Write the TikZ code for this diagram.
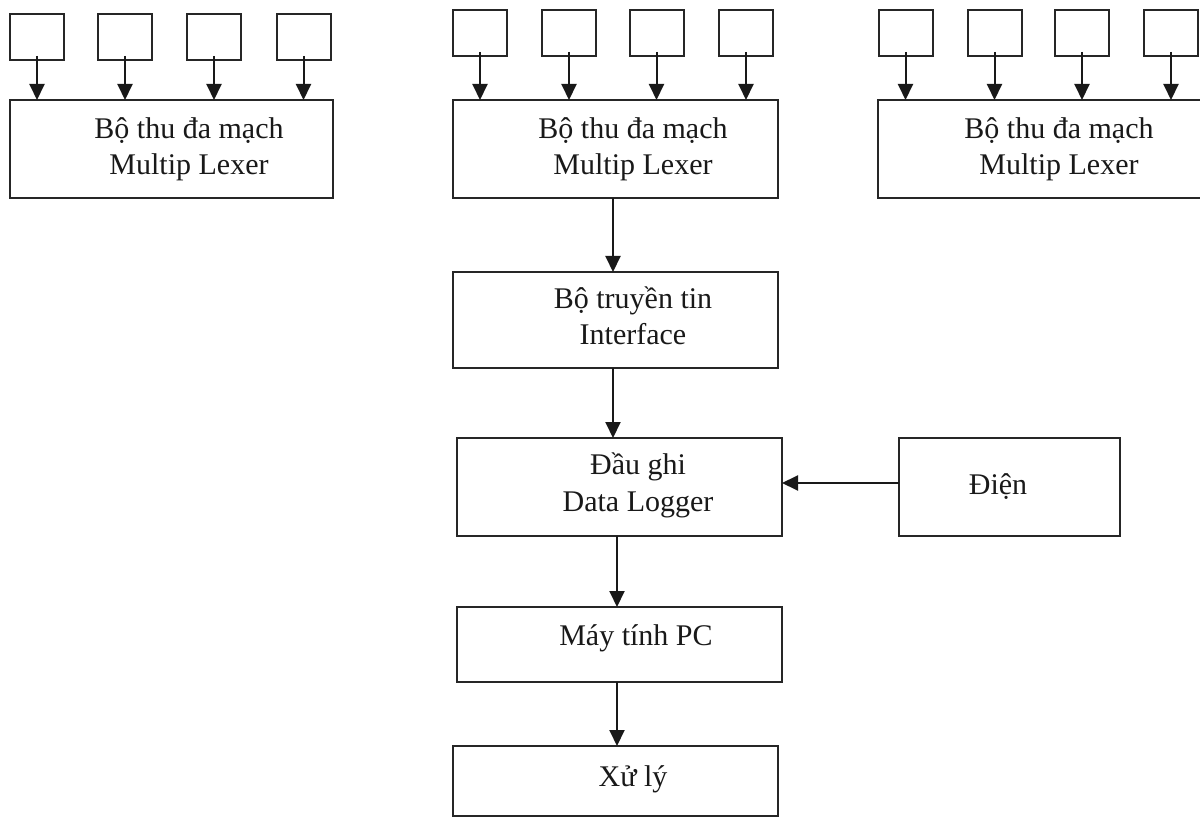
\documentclass[tikz,border=0pt]{standalone}
\usepackage{fontspec}
\setmainfont{Liberation Serif}
\usetikzlibrary{arrows.meta}
\begin{document}
\begin{tikzpicture}[x=1pt,y=-1pt,
  every node/.style={inner sep=0pt,outer sep=0pt},
  box/.style={draw=black!85,line width=2pt,fill=none},
  sensor/.style={box,minimum width=54pt,minimum height=46pt},
  txt/.style={anchor=base,font=\fontsize{30}{36}\selectfont,text=black!90},
  flow/.style={draw=black!90,line width=2pt,-{Triangle[length=16pt,width=15pt]}}
]
\clip (0,0) rectangle (1200,818);
\fill[white] (0,0) rectangle (1200,818);

% ---- left acquisition group ----
\node[box,minimum width=323pt,minimum height=98pt] (muxL) at (171.5,149) {};
\node[txt] (muxLa) at (189,139) {Bộ thu đa mạch};
\node[txt] (muxLb) at (189,175) {Multip Lexer};
\foreach \i/\x in {1/37,2/125,3/214,4/303.5}{
  \node[sensor] (sL\i) at (\x,37) {};
  \draw[flow] ([yshift=4pt]sL\i.south) -- (sL\i.south |- muxL.north);
}

% ---- middle acquisition group ----
\node[box,minimum width=325pt,minimum height=98pt] (muxM) at (615.5,149) {};
\node[txt] (muxMa) at (633,139) {Bộ thu đa mạch};
\node[txt] (muxMb) at (633,175) {Multip Lexer};
\foreach \i/\x in {1/480,2/569,3/656.5,4/746}{
  \node[sensor] (sM\i) at (\x,33) {};
  \draw[flow] ([yshift=4pt]sM\i.south) -- (sM\i.south |- muxM.north);
}

% ---- right acquisition group ----
\node[box,minimum width=327pt,minimum height=98pt] (muxR) at (1041.5,149) {};
\node[txt] (muxRa) at (1059,139) {Bộ thu đa mạch};
\node[txt] (muxRb) at (1059,175) {Multip Lexer};
\foreach \i/\x in {1/905.5,2/994.5,3/1082,4/1171}{
  \node[sensor] (sR\i) at (\x,33) {};
  \draw[flow] ([yshift=4pt]sR\i.south) -- (sR\i.south |- muxR.north);
}

% ---- main chain ----
\node[box,minimum width=325pt,minimum height=96pt] (ifc) at (615.5,320) {};
\node[txt] (ifca) at (633,309) {Bộ truyền tin};
\node[txt] (ifcb) at (633,345) {Interface};

\node[box,minimum width=325pt,minimum height=98pt] (dl) at (619.5,487) {};
\node[txt] (dla) at (638,474) {Đầu ghi};
\node[txt] (dlb) at (638,511) {Data Logger};

\node[box,minimum width=221pt,minimum height=98pt] (pwr) at (1009.5,487) {};
\node[txt] (pwra) at (998,494) {Điện};

\node[box,minimum width=325pt,minimum height=75pt] (pc) at (619.5,644.5) {};
\node[txt] (pca) at (636,645) {Máy tính PC};

\node[box,minimum width=325pt,minimum height=70pt] (proc) at (615.5,781) {};
\node[txt] (proca) at (633,786) {Xử lý};

% ---- connectors ----
\draw[flow] ([xshift=-2.5pt]muxM.south) -- ([xshift=-2.5pt]ifc.north);
\draw[flow] ([xshift=-2.5pt]ifc.south) -- ([xshift=-6.5pt]dl.north);
\draw[flow] ([xshift=-2.5pt]dl.south) -- ([xshift=-2.5pt]pc.north);
\draw[flow] ([xshift=-2.5pt]pc.south) -- ([xshift=1.5pt]proc.north);
\draw[flow] ([yshift=4pt]pwr.west) -- ([yshift=4pt]dl.east);
\end{tikzpicture}
\end{document}
